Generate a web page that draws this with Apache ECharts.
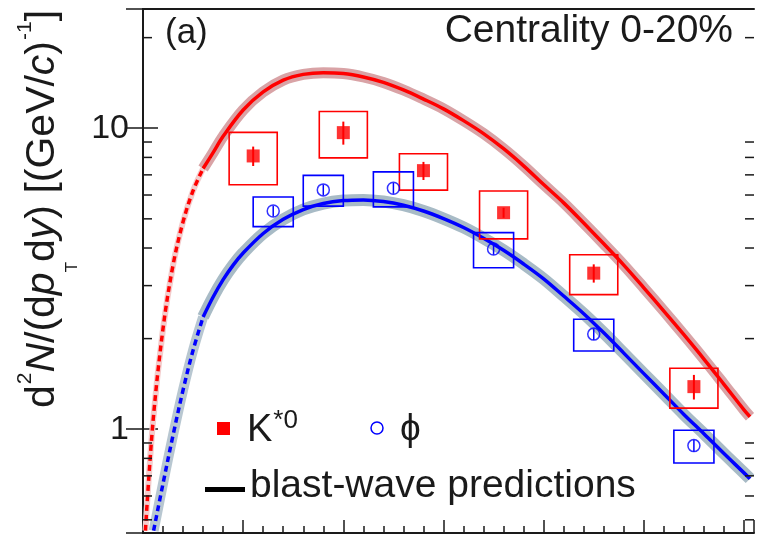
<!DOCTYPE html>
<html><head><meta charset="utf-8">
<script src="https://cdn.jsdelivr.net/npm/echarts@6/dist/echarts.min.js"></script>
<style>html,body{margin:0;padding:0;background:#fff}#c{width:759px;height:535px}</style>
</head><body><div id="c"></div>
<script>
// ---- data ----
const kstarPt    = [0.55, 1.0, 1.4, 1.8, 2.25, 2.75];
const kstarYield = [8.09, 9.67, 7.23, 5.24, 3.30, 1.385];
const kstarStat  = [0.6, 0.85, 0.5, 0.2, 0.23, 0.13];
const kstarSys   = [1.6, 1.7, 1.0, 0.95, 0.5, 0.21];

const phiPt    = [0.65, 0.9, 1.25, 1.75, 2.25, 2.75];
const phiYield = [5.31, 6.24, 6.32, 3.97, 2.07, 0.882];
const phiStat  = [0.22, 0.26, 0.26, 0.17, 0.09, 0.04];
const phiSys   = [0.6, 0.73, 0.84, 0.53, 0.25, 0.11];

// blast-wave predictions
const kstarCurvePt = [0.012, 0.05, 0.1, 0.15, 0.2, 0.25, 0.3, 0.35, 0.4, 0.5, 0.6, 0.7, 0.8, 0.9, 1.0, 1.1, 1.2, 1.3, 1.4, 1.5, 1.6, 1.7, 1.8, 1.9, 2.0, 2.1, 2.2, 2.3, 2.4, 2.5, 2.6, 2.7, 2.8, 2.9, 3.0, 3.03];
const kstarCurveY  = [0.46, 1.06, 2.16, 3.51, 4.89, 6.2, 7.35, 8.3, 9.4, 11.5, 13.2, 14.45, 15.1, 15.3, 15.2, 14.8, 14.2, 13.4, 12.5, 11.6, 10.6, 9.6, 8.55, 7.5, 6.5, 5.65, 4.84, 4.13, 3.51, 2.95, 2.47, 2.06, 1.71, 1.41, 1.16, 1.10];
const phiCurvePt = [0.053, 0.1, 0.15, 0.2, 0.25, 0.3, 0.35, 0.4, 0.45, 0.5, 0.6, 0.7, 0.8, 0.9, 1.0, 1.1, 1.2, 1.3, 1.4, 1.5, 1.6, 1.7, 1.8, 1.9, 2.0, 2.1, 2.2, 2.3, 2.4, 2.5, 2.6, 2.7, 2.8, 2.9, 3.0, 3.03];
const phiCurveY  = [0.46, 0.66, 0.955, 1.35, 1.83, 2.36, 2.75, 3.14, 3.51, 3.85, 4.47, 4.98, 5.37, 5.62, 5.75, 5.78, 5.71, 5.55, 5.31, 5.01, 4.68, 4.31, 3.93, 3.54, 3.16, 2.77, 2.42, 2.09, 1.79, 1.53, 1.31, 1.12, 0.966, 0.83, 0.716, 0.684];

const yTickLabels = {1: '1', 10: '10'};
const yMinorTicks = [0.5, 0.6, 0.7, 0.8, 0.9, 2, 3, 4, 5, 6, 7, 8, 9, 20];

// ---- settings ----
const X_MIN = 0, X_MAX = 3.05, Y_MIN = 0.452, Y_MAX = 24.9;
const DASH_CUT = 0.3;
const KSTAR_HALF_BIN = 0.12, PHI_HALF_BIN = 0.1;
const RED = '#ff0000', BLUE = '#0000ff', INK = '#1a1a1a';
const FONT = '"Liberation Sans", Arial, Helvetica, sans-serif';

function splitCurve(pts, ys) {
  const lo = [], hi = [];
  pts.forEach((p, i) => {
    if (p <= DASH_CUT) lo.push([p, ys[i]]);
    if (p >= DASH_CUT) hi.push([p, ys[i]]);
  });
  return [lo, hi];
}
const [kLo, kHi] = splitCurve(kstarCurvePt, kstarCurveY);
const [pLo, pHi] = splitCurve(phiCurvePt, phiCurveY);

function lineSeries(data, color, width, dashed, z) {
  return {
    type: 'line', data, smooth: 0.35, symbol: 'none', z, silent: true,
    lineStyle: { color, width, type: dashed ? [6, 4] : 'solid', cap: 'butt', join: 'round' }
  };
}

function boxSeries(pt, y, sys, hw, color) {
  return {
    type: 'custom', z: 3, silent: true,
    data: pt.map((p, i) => [p, y[i], sys[i]]),
    encode: { x: 0, y: 1 },
    renderItem(params, api) {
      const x = api.value(0), v = api.value(1), s = api.value(2);
      const a = api.coord([x - hw, v + s]);
      const b = api.coord([x + hw, v - s]);
      return { type: 'rect', shape: { x: a[0], y: a[1], width: b[0] - a[0], height: b[1] - a[1] },
               style: { fill: 'none', stroke: color, lineWidth: 1.6 } };
    }
  };
}

function errSeries(pt, y, err, color, w) {
  return {
    type: 'custom', z: 6, silent: true,
    data: pt.map((p, i) => [p, y[i], err[i]]),
    encode: { x: 0, y: 1 },
    renderItem(params, api) {
      const x = api.value(0), v = api.value(1), e = api.value(2);
      const a = api.coord([x, v + e]);
      const b = api.coord([x, v - e]);
      return { type: 'line', shape: { x1: a[0], y1: a[1], x2: b[0], y2: b[1] },
               style: { stroke: color, lineWidth: w } };
    }
  };
}

const minorTickSeries = {
  type: 'custom', z: 7, silent: true,
  data: yMinorTicks.map(v => [X_MIN, v]),
  encode: { x: 0, y: 1 },
  renderItem(params, api) {
    const v = api.value(1);
    const l = api.coord([X_MIN, v]);
    const r = api.coord([X_MAX, v]);
    return { type: 'group', children: [
      { type: 'line', shape: { x1: l[0], y1: l[1], x2: l[0] + 9, y2: l[1] }, style: { stroke: INK, lineWidth: 1.5 } },
      { type: 'line', shape: { x1: r[0] - 9, y1: r[1], x2: r[0], y2: r[1] }, style: { stroke: INK, lineWidth: 1.5 } }
    ] };
  }
};

const chart = echarts.init(document.getElementById('c'));
chart.setOption({
  animation: false,
  backgroundColor: '#fff',
  textStyle: { fontFamily: FONT },
  grid: { left: 143, top: 9, width: 611, height: 524, show: false },
  xAxis: [{
    type: 'value', min: X_MIN, max: X_MAX, interval: 0.5,
    axisLine: { show: true, lineStyle: { color: INK, width: 2 } },
    axisTick: { show: true, inside: true, length: 13, lineStyle: { color: INK, width: 1.5 } },
    minorTick: { show: true, splitNumber: 5, length: 7, lineStyle: { color: INK, width: 1.5 } },
    axisLabel: { show: false }, splitLine: { show: false }
  }, {
    type: 'value', position: 'top', min: X_MIN, max: X_MAX,
    axisLine: { show: true, onZero: false, lineStyle: { color: INK, width: 2 } },
    axisTick: { show: false }, axisLabel: { show: false }, splitLine: { show: false }
  }],
  yAxis: [{
    type: 'log', logBase: 10, min: Y_MIN, max: Y_MAX,
    axisLine: { show: true, lineStyle: { color: INK, width: 2 } },
    axisTick: { show: true, inside: true, length: 15, lineStyle: { color: INK, width: 1.5 } },
    axisLabel: { show: true, showMinLabel: false, showMaxLabel: false, margin: 14, fontSize: 34, color: INK, fontFamily: FONT,
      formatter: v => yTickLabels[Math.round(v)] || '' },
    splitLine: { show: false }
  }, {
    type: 'log', logBase: 10, min: Y_MIN, max: Y_MAX, position: 'right',
    axisLine: { show: true, lineStyle: { color: INK, width: 2 } },
    axisTick: { show: true, inside: true, length: 17, lineStyle: { color: INK, width: 1.5 } },
    axisLabel: { show: false }, splitLine: { show: false }
  }],
  series: [
    lineSeries(kLo, '#f3cccc', 6, false, 1),
    lineSeries(kHi, '#d9a3a6', 11, false, 1),
    lineSeries(pLo, '#b8c7d1', 10, false, 1),
    lineSeries(pHi, '#a8bbc6', 12, false, 1),
    lineSeries(kLo, RED, 3.5, true, 2),
    lineSeries(kHi, RED, 3.5, false, 2),
    lineSeries(pLo, BLUE, 3.5, true, 2),
    lineSeries(pHi, BLUE, 3.5, false, 2),
    boxSeries(kstarPt, kstarYield, kstarSys, KSTAR_HALF_BIN, RED),
    boxSeries(phiPt, phiYield, phiSys, PHI_HALF_BIN, BLUE),
    { type: 'scatter', name: 'K*0', z: 5, silent: true, symbol: 'rect', symbolSize: 13,
      itemStyle: { color: RED }, data: kstarPt.map((p, i) => [p, kstarYield[i]]) },
    { type: 'scatter', name: 'phi', z: 5, silent: true, symbol: 'circle', symbolSize: 12,
      itemStyle: { color: 'rgba(0,0,0,0)', borderColor: BLUE, borderWidth: 1.5 },
      data: phiPt.map((p, i) => [p, phiYield[i]]) },
    errSeries(kstarPt, kstarYield, kstarStat, RED, 2),
    errSeries(phiPt, phiYield, phiStat, BLUE, 1.5),
    minorTickSeries
  ],
  graphic: [
    { type: 'text', x: 165, y: 16, style: { text: '(a)', font: '35px ' + FONT, fill: INK, verticalAlign: 'top' } },
    { type: 'text', x: 733, y: 12, style: { text: 'Centrality 0-20%', font: '39px ' + FONT, fill: INK, align: 'right', verticalAlign: 'top' } },
    { type: 'text', x: 43, y: 209, rotation: Math.PI / 2,
      style: {
        text: '{n|d}{sup|2}{i|N}{n|/(d}{i|p}{sub|T}{n|d}{i|y}{n|) [(GeV/}{i|c}{n|)}{sup|-1}{n|]}',
        align: 'center', verticalAlign: 'middle', fill: INK,
        rich: {
          n: { fontSize: 41, lineHeight: 76, fontFamily: FONT, fill: INK },
          i: { fontSize: 41, lineHeight: 76, fontFamily: FONT, fontStyle: 'italic', fill: INK },
          sup: { fontSize: 21, fontFamily: FONT, verticalAlign: 'top', padding: [10, 0, 0, 1], fill: INK },
          sub: { fontSize: 17, fontFamily: FONT, verticalAlign: 'bottom', fill: INK }
        }
      } },
    // legend
    { type: 'rect', shape: { x: 217, y: 422, width: 13, height: 13 }, style: { fill: RED } },
    { type: 'text', x: 247, y: 407,
      style: { text: '{k|K}{s|*0}', verticalAlign: 'top', fill: INK,
        rich: { k: { fontSize: 38, lineHeight: 48, fontFamily: FONT, fill: INK },
                s: { fontSize: 26, fontFamily: FONT, verticalAlign: 'top', padding: [1, 0, 0, 1], fill: INK } } } },
    { type: 'circle', shape: { cx: 377, cy: 428, r: 6 }, style: { fill: 'none', stroke: BLUE, lineWidth: 1.5 } },
    { type: 'text', x: 400, y: 411, style: { text: 'ϕ', font: '37px ' + FONT, fill: INK, verticalAlign: 'top' } },
    { type: 'rect', shape: { x: 205, y: 487, width: 40, height: 5 }, style: { fill: '#000' } },
    { type: 'text', x: 250, y: 467, style: { text: 'blast-wave predictions', font: '39px ' + FONT, fill: INK, verticalAlign: 'top' } }
  ]
});
</script>
</body></html>
